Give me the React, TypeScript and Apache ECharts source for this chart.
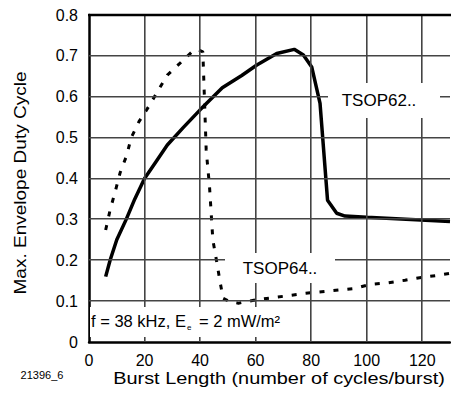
import React, { useEffect, useRef } from "react";
import * as echarts from "echarts";

const tsop62X = [6, 7.6, 10, 13.4, 16.5, 20, 24, 28.2, 34, 40, 48, 55, 60.3, 67.6, 73.9, 77.2, 80.2, 83.2, 85.9, 89.2, 92.2, 100, 130];
const tsop62Y = [0.16, 0.2, 0.25, 0.3, 0.35, 0.4, 0.44, 0.482, 0.525, 0.568, 0.622, 0.652, 0.677, 0.706, 0.716, 0.702, 0.673, 0.584, 0.347, 0.315, 0.308, 0.305, 0.295];

const tsop64X = [6, 7.6, 9.4, 11.2, 13.6, 15.2, 18, 21.4, 24.8, 28.2, 32.6, 37.4, 39, 41, 41.5, 42.2, 43.4, 44.6, 46, 47.2, 48.3, 51, 53.8, 60.1, 65.8, 77.8, 83.8, 95.8, 101.2, 107.8, 113.8, 119.8, 125.7, 130];
const tsop64Y = [0.274, 0.323, 0.367, 0.414, 0.457, 0.5, 0.539, 0.575, 0.614, 0.653, 0.681, 0.712, 0.716, 0.71, 0.61, 0.47, 0.38, 0.25, 0.196, 0.147, 0.107, 0.098, 0.095, 0.103, 0.108, 0.119, 0.123, 0.131, 0.141, 0.145, 0.151, 0.158, 0.163, 0.168];

const xTicks = { min: 0, max: 130, interval: 20 };
const yTicks = { min: 0, max: 0.8, interval: 0.1 };
const xGridValues = [20, 40, 60, 80, 100, 120];
const yGridValues = [0.1, 0.2, 0.3, 0.4, 0.5, 0.6, 0.7];

const FONT = "Liberation Sans";

export default function App() {
  const ref = useRef<HTMLDivElement>(null);
  useEffect(() => {
    const chart = echarts.init(ref.current!, null, { renderer: "svg" });
    const labels: any[] = [
      { id: "topBorder", type: "line", z: 15, shape: { x1: 88, y1: 15, x2: 451, y2: 15 }, style: { stroke: "#000", lineWidth: 2.5 } },
      { id: "box62", type: "rect", z: 13, shape: { x: 328, y: 83, width: 112, height: 35 }, style: { fill: "#fff" } },
      {
        id: "t62", type: "text", z: 14, x: 379, y: 100,
        style: { text: "TSOP62..", fontSize: 17, fontFamily: FONT, fill: "#000", align: "center", verticalAlign: "middle" },
      },
      { id: "box64", type: "rect", z: 13, shape: { x: 225, y: 253, width: 110, height: 30 }, style: { fill: "#fff" } },
      {
        id: "t64", type: "text", z: 14, x: 280, y: 268,
        style: { text: "TSOP64..", fontSize: 17, fontFamily: FONT, fill: "#000", align: "center", verticalAlign: "middle" },
      },
      { id: "boxCond", type: "rect", z: 13, shape: { x: 90, y: 307, width: 215, height: 30 }, style: { fill: "#fff" } },
      {
        id: "tCond", type: "text", z: 14, x: 91, y: 321,
        style: {
          text: "{a|f = 38 kHz, E}{s|e}{a| = 2 mW/m²}",
          fontFamily: FONT,
          fill: "#000",
          align: "left",
          verticalAlign: "middle",
          rich: {
            a: { fontSize: 16.5, fontFamily: FONT, fill: "#000", verticalAlign: "middle" },
            s: { fontSize: 8, fontFamily: FONT, fill: "#000", padding: [12, 3, 0, 1] },
          },
        },
      },
      {
        id: "xName", type: "text", z: 14, x: 279, y: 378, scaleX: 1.17,
        style: { text: "Burst Length (number of cycles/burst)", fontSize: 17, fontFamily: FONT, fill: "#000", align: "center", verticalAlign: "middle" },
      },
      {
        id: "figId", type: "text", z: 14, x: 42, y: 375,
        style: { text: "21396_6", fontSize: 11, fontFamily: FONT, fill: "#000", align: "center", verticalAlign: "middle" },
      },
      {
        id: "yName", type: "text", z: 14, x: 20, y: 183, rotation: Math.PI / 2, scaleX: 1.12,
        style: { text: "Max. Envelope Duty Cycle", fontSize: 17, fontFamily: FONT, fill: "#000", align: "center", verticalAlign: "middle" },
      },
    ];
    chart.setOption({
      animation: false,
      grid: { left: 89, top: 15, right: 1, bottom: 63, containLabel: false },
      xAxis: {
        type: "value",
        min: xTicks.min,
        max: xTicks.max,
        interval: xTicks.interval,
        axisLine: { show: true, onZero: false, lineStyle: { color: "#000", width: 2.5 } },
        axisTick: { show: false },
        splitLine: { show: false },
        axisLabel: { color: "#000", fontSize: 16, fontFamily: FONT, margin: 10, showMaxLabel: false },
      },
      yAxis: {
        type: "value",
        min: yTicks.min,
        max: yTicks.max,
        interval: yTicks.interval,
        axisLine: { show: true, onZero: false, lineStyle: { color: "#000", width: 2.5 } },
        axisTick: { show: false },
        splitLine: { show: false },
        axisLabel: {
          color: "#000",
          fontSize: 16,
          fontFamily: FONT,
          margin: 11,
          formatter: (v: number) => (v === 0 ? "0" : v.toFixed(1)),
        },
      },
      series: [
        {
          type: "line",
          data: tsop62X.map((x, i) => [x, tsop62Y[i]]),
          showSymbol: false,
          symbol: "none",
          lineStyle: { color: "#000", width: 3.5 },
          z: 5,
        },
        {
          type: "line",
          data: tsop64X.map((x, i) => [x, tsop64Y[i]]),
          showSymbol: false,
          symbol: "none",
          lineStyle: { color: "#000", width: 3, type: [5, 9] },
          z: 5,
        },
      ],
      graphic: labels,
    });

    const toPx = (x: number, y: number) => chart.convertToPixel({ gridIndex: 0 }, [x, y]) as number[];
    const gridLines: any[] = [];
    xGridValues.forEach((v, i) => {
      const a = toPx(v, yTicks.min);
      const b = toPx(v, yTicks.max);
      const x = Math.round(a[0]);
      gridLines.push({
        id: "gx" + i, type: "rect", z: 12,
        shape: { x: x - 1, y: b[1], width: 1.6, height: a[1] - b[1] },
        style: { fill: "#444", stroke: null },
      });
    });
    yGridValues.forEach((v, i) => {
      const a = toPx(xTicks.min, v);
      const b = toPx(xTicks.max, v);
      const y = Math.round(a[1]);
      gridLines.push({
        id: "gy" + i, type: "rect", z: 12,
        shape: { x: a[0], y: y - 1, width: b[0] - a[0], height: 1.6 },
        style: { fill: "#444", stroke: null },
      });
    });
    chart.setOption({ graphic: [...labels, ...gridLines] });
    return () => chart.dispose();
  }, []);
  return <div ref={ref} style={{ width: 451, height: 405, position: "absolute", left: 0, top: 0, background: "#fff" }} />;
}
